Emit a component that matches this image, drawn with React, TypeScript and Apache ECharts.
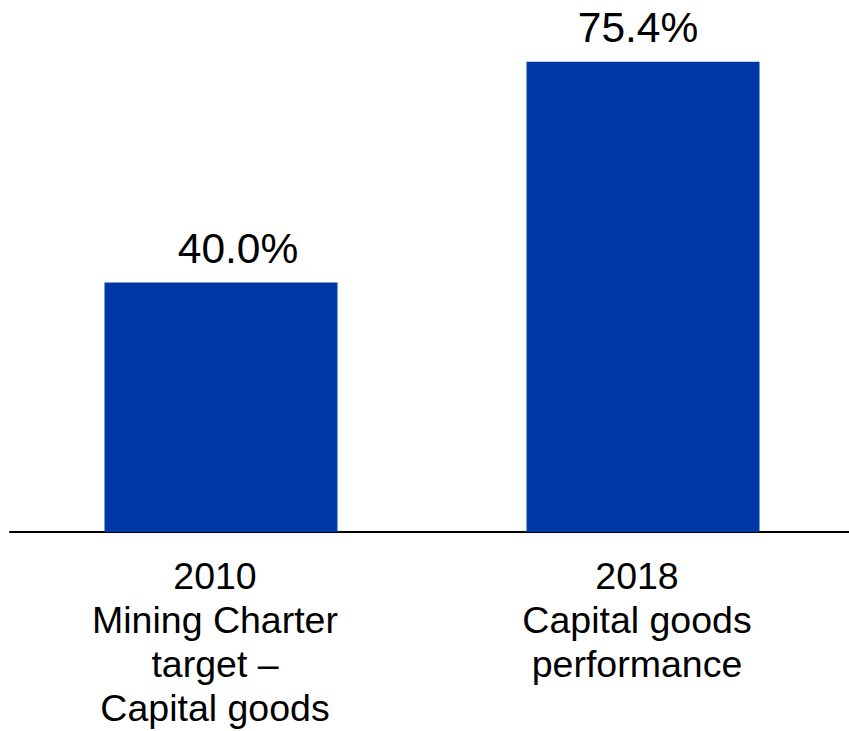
import React, { useEffect, useRef } from "react";
import * as echarts from "echarts";

const categories = [
  "2010\nMining Charter\ntarget –\nCapital goods",
  "2018\nCapital goods\nperformance",
];
const values = [40.0, 75.4];

export default function App() {
  const ref = useRef<HTMLDivElement>(null);
  useEffect(() => {
    if (!ref.current) return;
    const chart = echarts.init(ref.current, null, { renderer: "svg" });
    const labelShift = [[17, 0], [-5, 0]];
    chart.setOption({
      animation: false,
      grid: { left: 10, width: 844, top: 2, height: 530, containLabel: false },
      xAxis: {
        type: "category",
        data: categories,
        axisLine: { show: true, lineStyle: { color: "#000", width: 2 } },
        axisTick: { show: false },
        axisLabel: {
          color: "#000",
          fontFamily: "Liberation Sans, Arial, sans-serif",
          fontSize: 37.5,
          lineHeight: 44,
          margin: 22,
          interval: 0,
          padding: [0, 12, 0, 0],
        },
      },
      yAxis: {
        type: "value",
        min: 0,
        max: 85,
        show: false,
        splitLine: { show: false },
      },
      series: [
        {
          type: "bar",
          data: values.map((v, i) => ({ value: v, label: { offset: labelShift[i] } })),
          barWidth: 233,
          itemStyle: { color: "#0039A6" },
          label: {
            show: true,
            position: "top",
            distance: 13,
            color: "#000",
            fontFamily: "Liberation Sans, Arial, sans-serif",
            fontSize: 42.5,
            formatter: (p: any) => Number(p.value).toFixed(1) + "%",
          },
        },
      ],
    });
    return () => chart.dispose();
  }, []);
  return (
    <div
      style={{ position: "fixed", left: 0, top: 0, width: 849, height: 731, overflow: "hidden", background: "#fff" }}
    >
      <div ref={ref} style={{ width: 860, height: 731 }} />
    </div>
  );
}
